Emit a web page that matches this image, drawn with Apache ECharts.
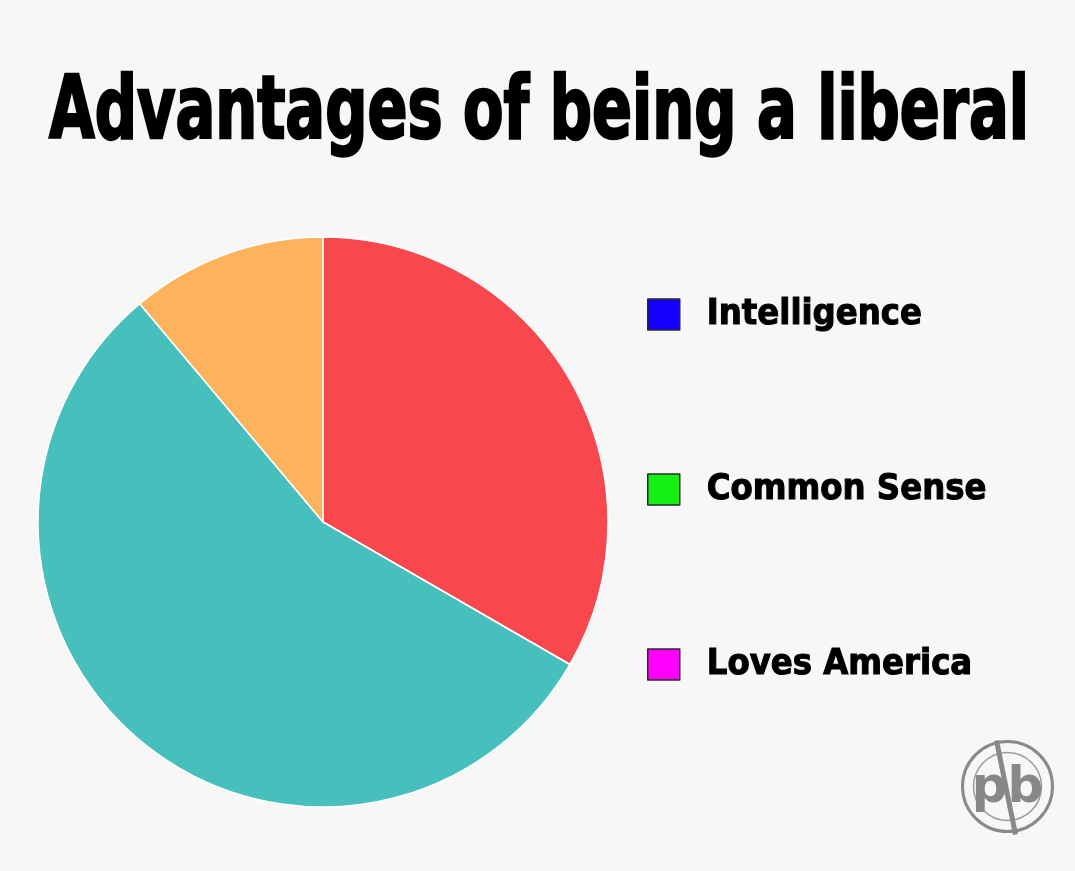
<!DOCTYPE html>
<html>
<head>
<meta charset="utf-8">
<script src="https://cdn.jsdelivr.net/npm/echarts@6/dist/echarts.min.js"></script>
<style>
html,body{margin:0;padding:0;background:#f7f7f7;}
#chart{width:1075px;height:871px;}
</style>
</head>
<body>
<div id="chart"></div>
<script>
// Pie slices (as drawn, clockwise from the top)
var sliceNames = ['Slice 1', 'Slice 2', 'Slice 3'];
var sliceValues = [3, 5, 1];
var sliceColors = ['#f8474d', '#47bfbd', '#fcb35c'];

// Legend entries (do not correspond to any visible slice)
var legendNames = ['Intelligence', 'Common Sense', 'Loves America'];
var legendColors = ['#1500ff', '#14f014', '#ff00ff'];

var titleText = 'Advantages of being a liberal';

var data = [];
for (var i = 0; i < sliceNames.length; i++) {
  data.push({name: sliceNames[i], value: sliceValues[i],
    itemStyle: {color: sliceColors[i], borderColor: '#ffffff', borderWidth: 1.5}});
}
for (var j = 0; j < legendNames.length; j++) {
  data.push({name: legendNames[j], value: 0,
    itemStyle: {color: legendColors[j], borderWidth: 0}});
}

var chart = echarts.init(document.getElementById('chart'), null, {renderer: 'canvas'});
var font = '"DejaVu Sans Condensed", "Liberation Sans", sans-serif';
chart.setOption({
  backgroundColor: '#f7f7f7',
  animation: false,
  legend: {
    data: legendNames,
    orient: 'vertical',
    left: 642,
    top: 291,
    itemWidth: 32,
    itemHeight: 31,
    itemGap: 138,
    icon: 'rect',
    selectedMode: false,
    itemStyle: {borderColor: '#2a2a2a', borderWidth: 1.5},
    textStyle: {fontFamily: font, fontWeight: 'bold', fontSize: 36, lineHeight: 31, color: '#000',
      textBorderColor: '#000', textBorderWidth: 1, padding: [0, 0, 0, 22]}
  },
  series: [{
    type: 'pie',
    center: [323, 522],
    radius: 285,
    startAngle: 90,
    clockwise: true,
    stillShowZeroSum: false,
    label: {show: false},
    labelLine: {show: false},
    emphasis: {disabled: true},
    tooltip: {show: false},
    data: data
  }],
  graphic: [
    {
      type: 'text',
      x: 539,
      y: 115,
      scaleX: 0.745,
      style: {text: titleText, fill: '#000', stroke: '#000', lineWidth: 2.5,
        font: 'bold 88px "DejaVu Sans Condensed", sans-serif', align: 'center', verticalAlign: 'middle'}
    },
    {
      type: 'group',
      left: 960,
      top: 738,
      children: [
        {type: 'circle', shape: {cx: 47, cy: 49, r: 45}, style: {fill: 'none', stroke: '#8a8a8a', lineWidth: 3}},
        {type: 'circle', shape: {cx: 47, cy: 49, r: 34}, style: {fill: 'none', stroke: '#9a9a9a', lineWidth: 1.5}},
        {type: 'line', shape: {x1: 36, y1: 3, x2: 55, y2: 97}, style: {stroke: '#888', lineWidth: 5}},
        {type: 'text', x: 47, y: 52, style: {text: 'pb', fill: '#888', font: 'bold 50px "DejaVu Sans", sans-serif', align: 'center', verticalAlign: 'middle'}}
      ]
    }
  ]
});
</script>
</body>
</html>
